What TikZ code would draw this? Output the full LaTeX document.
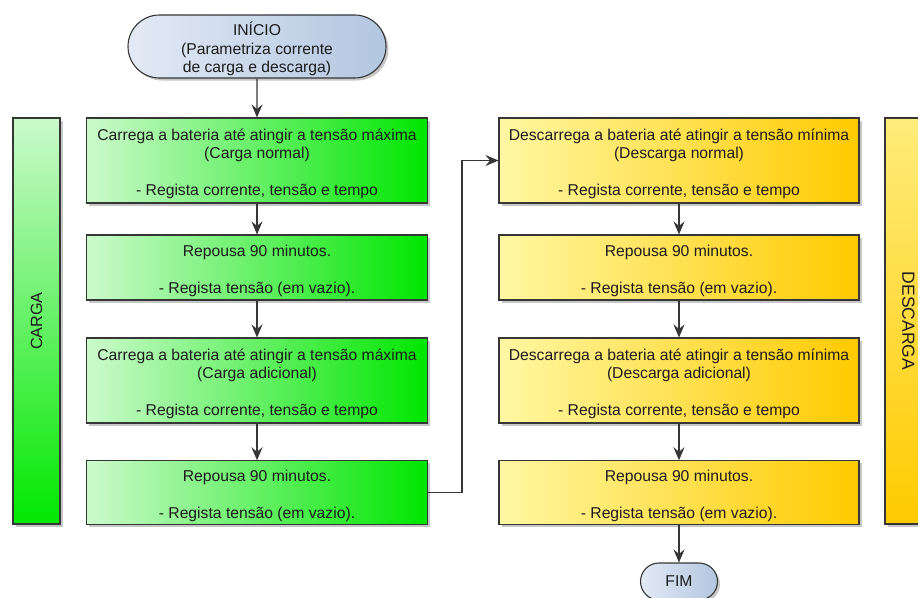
\documentclass[tikz,border=0pt]{standalone}
\usepackage{fontspec}
\setmainfont{Liberation Sans}
\usetikzlibrary{arrows.meta,shapes.misc,shadows}
\definecolor{borda}{HTML}{363636}
\definecolor{texto}{HTML}{1C1C1C}
\definecolor{verdeA}{HTML}{CCFACC}
\definecolor{verdeB}{HTML}{00E600}
\definecolor{amareloA}{HTML}{FFF7A3}
\definecolor{amareloB}{HTML}{FFCA00}
\definecolor{azulA}{HTML}{E3EAF5}
\definecolor{azulB}{HTML}{B2C6E0}
% primeira linha um pouco mais alta, desce o texto na caixa
\newcommand{\topo}{\rule{0pt}{18.5pt}}

\begin{document}
\begin{tikzpicture}[x=1pt, y=-1pt,
    every node/.style={font=\fontsize{15.7}{18.6}\selectfont, text=texto, align=center},
    caixa/.style={draw=borda, line width=1.1pt, inner sep=2pt,
      drop shadow={shadow xshift=2.5pt, shadow yshift=-2.5pt, fill=black, opacity=0.22}},
    verde/.style={caixa, left color=verdeA, right color=verdeB, minimum width=341},
    amarelo/.style={caixa, left color=amareloA, right color=amareloB, minimum width=360},
    terminal/.style={caixa, rounded rectangle, left color=azulA, right color=azulB},
    faixa/.style={caixa, minimum width=406, minimum height=47},
    seta/.style={draw=borda, line width=1.2pt, -{Stealth[length=13pt, width=11pt, inset=4.5pt]}}]
  \useasboundingbox (0,0) rectangle (918,597);

  % inicio e fim
  \node[terminal, minimum width=262, minimum height=63] (inicio) at (257,46.5)
    {\topo INÍCIO\\(Parametriza corrente\\ de carga e descarga)};
  \node[terminal, minimum width=81, minimum height=37] (fim) at (679,581.5) {FIM};

  % faixas laterais
  \node[faixa, rotate=90, top color=verdeA, bottom color=verdeB!90!green] (carga) at (36.5,321)
    {\fontsize{16.2}{19}\selectfont CARGA};
  \node[faixa, rotate=-90, top color=amareloA!75!amareloB, bottom color=amareloB] (descarga) at (908.5,321)
    {\fontsize{17.5}{20}\selectfont DESCARGA};

  % coluna da carga
  \foreach \n/\y/\h/\t in {
    cn/160.5/85/{Carrega a bateria até atingir a tensão máxima\\(Carga normal)\\[18.4pt]- Regista corrente, tensão e tempo},
    r1/267.5/65/{Repousa 90 minutos.\\[19pt]- Regista tensão (em vazio).},
    ca/380.5/85/{Carrega a bateria até atingir a tensão máxima\\(Carga adicional)\\[18.4pt]- Regista corrente, tensão e tempo},
    r2/492.5/63/{Repousa 90 minutos.\\[19pt]- Regista tensão (em vazio).}}{
    \node[verde, minimum height=\h] (\n) at (257,\y) {\topo\t};
  }

  % coluna da descarga
  \foreach \n/\y/\h/\t in {
    dn/160.5/85/{Descarrega a bateria até atingir a tensão mínima\\(Descarga normal)\\[18.4pt]- Regista corrente, tensão e tempo},
    r3/267.5/65/{Repousa 90 minutos.\\[19pt]- Regista tensão (em vazio).},
    da/380.5/85/{Descarrega a bateria até atingir a tensão mínima\\(Descarga adicional)\\[18.4pt]- Regista corrente, tensão e tempo},
    r4/492.5/63/{Repousa 90 minutos.\\[19pt]- Regista tensão (em vazio).}}{
    \node[amarelo, minimum height=\h] (\n) at (679,\y) {\topo\t};
  }

  \draw[seta] (inicio) -- (cn);
  \draw[seta] (cn) -- (r1);
  \draw[seta] (r1) -- (ca);
  \draw[seta] (ca) -- (r2);
  \draw[seta] (r2.east) -- ++(34,0) |- (dn.west);
  \draw[seta] (dn) -- (r3);
  \draw[seta] (r3) -- (da);
  \draw[seta] (da) -- (r4);
  \draw[seta] (r4) -- (fim);
\end{tikzpicture}
\end{document}
